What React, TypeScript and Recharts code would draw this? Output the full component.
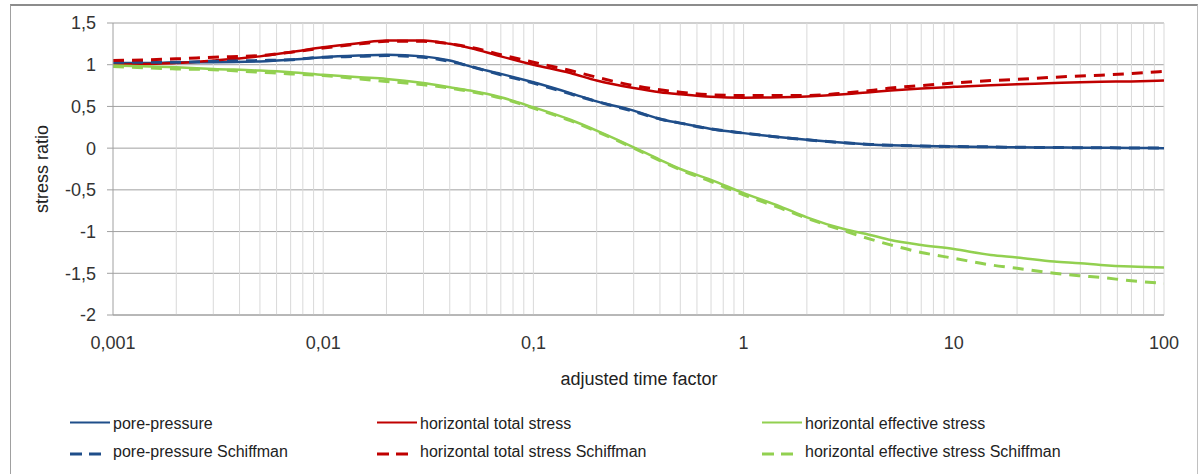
import { CartesianGrid, Line, LineChart, ReferenceLine, XAxis, YAxis } from "recharts";

// adjusted time factor (log scale)
const X = [
  0.001, 0.0015, 0.002, 0.003, 0.005, 0.007, 0.01, 0.015, 0.02, 0.03, 0.04, 0.05, 0.07, 0.1, 0.15, 0.2,
  0.3, 0.4, 0.5, 0.7, 1, 1.5, 2, 3, 4, 5, 7, 10, 15, 20, 30, 40, 50, 70, 100,
];

const PORE = [
  1.02, 1.02, 1.03, 1.03, 1.04, 1.06, 1.09, 1.11, 1.12, 1.1, 1.05, 0.98, 0.89, 0.79, 0.66, 0.56,
  0.45, 0.35, 0.3, 0.23, 0.18, 0.13, 0.1, 0.065, 0.045, 0.035, 0.025, 0.02, 0.015, 0.01, 0.008, 0.005,
  0.004, 0.002, 0,
];
const PORE_S = [
  1.03, 1.03, 1.03, 1.04, 1.05, 1.06, 1.09, 1.1, 1.11, 1.09, 1.04, 0.98, 0.88, 0.78, 0.65, 0.56,
  0.44, 0.35, 0.3, 0.23, 0.18, 0.13, 0.1, 0.065, 0.045, 0.035, 0.025, 0.02, 0.015, 0.01, 0.008, 0.005,
  0.004, 0.002, 0,
];
const TOTAL = [
  1.0, 1.01, 1.02, 1.05, 1.1, 1.15, 1.21, 1.26, 1.29, 1.29, 1.25, 1.2, 1.1, 1.0, 0.9, 0.81, 0.72,
  0.67, 0.645, 0.615, 0.605, 0.61, 0.62, 0.645, 0.67, 0.69, 0.715, 0.735, 0.755, 0.765, 0.78, 0.79,
  0.795, 0.8, 0.81,
];
const TOTAL_S = [
  1.05, 1.06, 1.07, 1.09, 1.11, 1.15, 1.2, 1.25, 1.28, 1.28, 1.25, 1.21, 1.12, 1.03, 0.93, 0.85, 0.75,
  0.7, 0.67, 0.64, 0.63, 0.63, 0.63, 0.66, 0.69, 0.72, 0.75, 0.78, 0.81, 0.825, 0.85, 0.865, 0.875,
  0.895, 0.92,
];
const EFFECTIVE = [
  0.99, 0.98, 0.97, 0.95, 0.93, 0.91, 0.88, 0.85, 0.83, 0.78, 0.73, 0.69, 0.61, 0.49, 0.34, 0.21,
  0.01, -0.14, -0.25, -0.38, -0.54, -0.7, -0.83, -0.97, -1.04, -1.1, -1.16, -1.21, -1.28, -1.31,
  -1.36, -1.38, -1.4, -1.42, -1.43,
];
const EFFECTIVE_S = [
  0.98, 0.96, 0.95, 0.94, 0.91, 0.89, 0.87, 0.83, 0.8, 0.76, 0.72, 0.68, 0.6, 0.48, 0.33, 0.2, 0.0,
  -0.15, -0.26, -0.4, -0.56, -0.72, -0.84, -0.99, -1.09, -1.16, -1.25, -1.32, -1.4, -1.44, -1.5,
  -1.53, -1.55, -1.59, -1.62,
];

const X_TICKS = [0.001, 0.01, 0.1, 1, 10, 100];
const Y_TICKS = [-2, -1.5, -1, -0.5, 0, 0.5, 1, 1.5];
const MINOR_X = [0.001, 0.01, 0.1, 1, 10].flatMap((d) =>
  [2, 3, 4, 5, 6, 7, 8, 9, 10].map((m) => +(d * m).toPrecision(3))
);

const BLUE = "#1f4e8a";
const RED = "#c00000";
const GREEN = "#92d050";
const FONT = "'Liberation Sans', Arial, sans-serif";

const pts = (ys: number[]) => X.map((x, i) => ({ x, y: ys[i] }));
const comma = (v: number) => String(v).replace(".", ",");

const SERIES = [
  { name: "pore-pressure", data: PORE, color: BLUE, dashed: false },
  { name: "horizontal total stress", data: TOTAL, color: RED, dashed: false },
  { name: "horizontal effective stress", data: EFFECTIVE, color: GREEN, dashed: false },
  { name: "pore-pressure Schiffman", data: PORE_S, color: BLUE, dashed: true },
  { name: "horizontal total stress Schiffman", data: TOTAL_S, color: RED, dashed: true },
  { name: "horizontal effective stress Schiffman", data: EFFECTIVE_S, color: GREEN, dashed: true },
];

const LEGEND_COLS = [70, 377, 762];

function LegendItem({ s, col, row }: { s: (typeof SERIES)[number]; col: number; row: number }) {
  const left = LEGEND_COLS[col];
  const top = row === 0 ? 416 : 444;
  return (
    <div style={{ position: "absolute", left, top, height: 16, display: "flex" }}>
      <svg width={42} height={16} style={{ display: "block" }}>
        <line
          x1={0}
          x2={s.dashed ? 31 : 40}
          y1={row === 0 ? 6.5 : 10}
          y2={row === 0 ? 6.5 : 10}
          stroke={s.color}
          strokeWidth={s.dashed ? 3 : 2}
          strokeDasharray={s.dashed ? "12 7" : undefined}
        />
      </svg>
      <span style={{ marginLeft: 1, fontSize: 16, lineHeight: "16px", color: "#222", whiteSpace: "nowrap" }}>
        {s.name}
      </span>
    </div>
  );
}

export default function App() {
  return (
    <div style={{ position: "absolute", left: 0, top: 0, width: 1198, height: 474, fontFamily: FONT, background: "#fff" }}>
      <div
        style={{
          position: "absolute",
          left: 10,
          top: 4,
          width: 1186,
          height: 480,
          borderTop: "2px solid #8c8c8c",
          borderLeft: "1px solid #a0a0a0",
          borderRight: "1px solid #c0c0c0",
        }}
      />
      <div style={{ position: "absolute", left: 0, top: 0 }}>
        <LineChart width={1198} height={474} margin={{ top: 23, right: 34, left: 53, bottom: 99 }}>
          <CartesianGrid vertical={false} stroke="#a0a0a0" />
          {MINOR_X.map((v) => (
            <ReferenceLine key={v} x={v} stroke="#d9d9d9" strokeWidth={1} />
          ))}
          <XAxis
            type="number"
            dataKey="x"
            scale="log"
            domain={[0.001, 100]}
            ticks={X_TICKS}
            allowDataOverflow
            tickFormatter={comma}
            tickLine={false}
            tickSize={0}
            tickMargin={21}
            height={60}
            axisLine={{ stroke: "#a0a0a0" }}
            tick={{ fill: "#333", fontSize: 18, fontFamily: FONT }}
          />
          <YAxis
            type="number"
            domain={[-2, 1.5]}
            ticks={Y_TICKS}
            allowDataOverflow
            tickFormatter={comma}
            width={60}
            tickSize={6}
            tickMargin={11}
            axisLine={{ stroke: "#a0a0a0" }}
            tickLine={{ stroke: "#a0a0a0" }}
            tick={{ fill: "#333", fontSize: 18, fontFamily: FONT }}
          />
          {SERIES.map((s) => (
            <Line
              key={s.name}
              data={pts(s.data)}
              dataKey="y"
              name={s.name}
              type="monotone"
              stroke={s.color}
              strokeWidth={s.dashed ? 3 : 2.5}
              strokeDasharray={s.dashed ? "11 8" : undefined}
              dot={false}
              activeDot={false}
              isAnimationActive={false}
            />
          ))}
        </LineChart>
      </div>
      <div
        style={{
          position: "absolute",
          left: 439,
          top: 370,
          width: 400,
          textAlign: "center",
          fontSize: 18,
          lineHeight: "18px",
          color: "#222",
        }}
      >
        adjusted time factor
      </div>
      <div
        style={{
          position: "absolute",
          left: -58,
          top: 160,
          width: 200,
          height: 18,
          textAlign: "center",
          fontSize: 18,
          lineHeight: "18px",
          color: "#222",
          transform: "rotate(-90deg)",
        }}
      >
        stress ratio
      </div>
      {SERIES.map((s, i) => (
        <LegendItem key={s.name} s={s} col={i % 3} row={i < 3 ? 0 : 1} />
      ))}
    </div>
  );
}
